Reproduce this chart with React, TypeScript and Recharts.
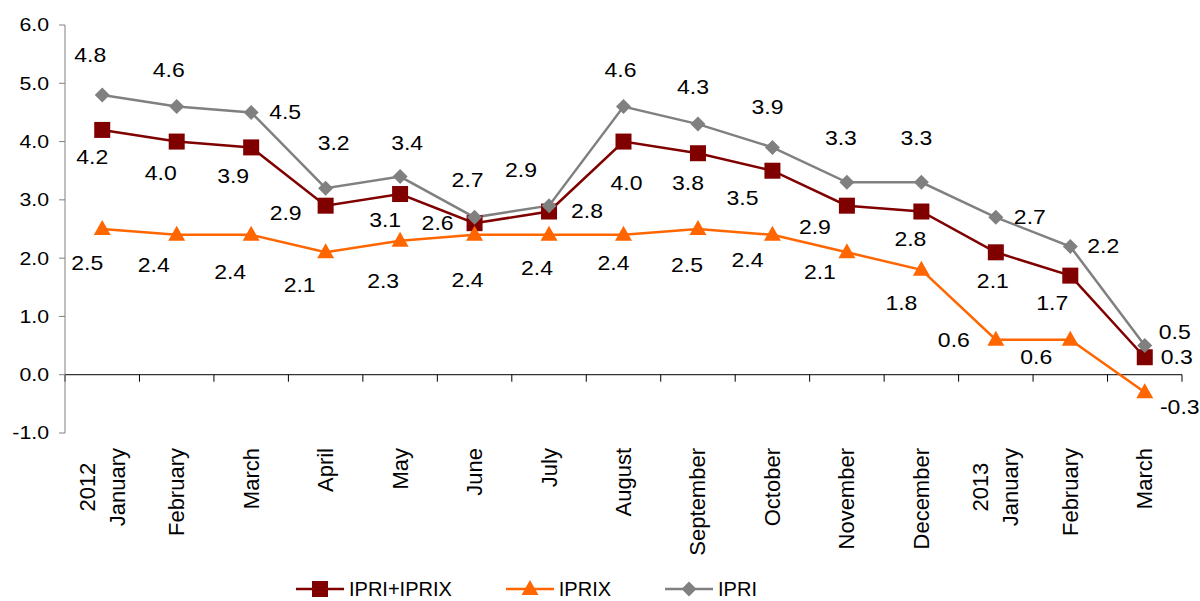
import { LineChart, Line, XAxis, YAxis, ReferenceLine, Legend, LabelList } from 'recharts';

const MONTHS = [
  'January', 'February', 'March', 'April', 'May', 'June', 'July', 'August',
  'September', 'October', 'November', 'December', 'January', 'February', 'March',
];
const YEARS = ['2012', '', '', '', '', '', '', '', '', '', '', '', '2013', '', ''];

const IPRI_IPRIX = [4.2, 4.0, 3.9, 2.9, 3.1, 2.6, 2.8, 4.0, 3.8, 3.5, 2.9, 2.8, 2.1, 1.7, 0.3];
const IPRIX = [2.5, 2.4, 2.4, 2.1, 2.3, 2.4, 2.4, 2.4, 2.5, 2.4, 2.1, 1.8, 0.6, 0.6, -0.3];
const IPRI = [4.8, 4.6, 4.5, 3.2, 3.4, 2.7, 2.9, 4.6, 4.3, 3.9, 3.3, 3.3, 2.7, 2.2, 0.5];

const Y_TICKS = [-1, 0, 1, 2, 3, 4, 5, 6];

// label placement (dx, dy from the point), hand placed like the original
const OFF_SUM = [[-10, 27], [-16, 31], [-18, 29], [-40, 7], [-15, 26], [-37, 0], [38, 0], [3, 41], [-10, 30], [-30, 27], [-32, 21], [-11, 28], [-3, 29], [-18, 27], [32, 0]];
const OFF_IPRIX = [[-15, 34], [-23, 30], [-21, 37], [-26, 33], [-17, 40], [-7, 45], [-12, 33], [-10, 28], [-11, 36], [-25, 25], [-27, 20], [-20, 33], [-42, 0], [-34, 17], [35, 15]];
const OFF_IPRI = [[-12, -40], [-8, -37], [34, 0], [8, -45], [7, -34], [-7, -37], [-28, -36], [-3, -37], [-5, -37], [-5, -40], [-6, -44], [-5, -44], [34, 0], [33, 0], [30, -14]];

const data = MONTHS.map((m, i) => ({
  key: `${YEARS[i]} ${m} ${i}`,
  sum: IPRI_IPRIX[i],
  iprix: IPRIX[i],
  ipri: IPRI[i],
}));

const FONT = '"Liberation Sans", Arial, sans-serif';
const RED = '#800000';
const ORANGE = '#FF6600';
const GRAY = '#808080';
const PLOT_W = 1200 - 65 - 18;
const HALF_BAND = PLOT_W / MONTHS.length / 2;
// the original's text runs a bit wider than Arial
const STRETCH = 1.15;
const CAT_SIZE = 22;

let ctx: CanvasRenderingContext2D | null = null;
function textWidth(s: string, size: number) {
  if (!ctx) ctx = document.createElement('canvas').getContext('2d');
  if (!ctx) return s.length * size * 0.55;
  ctx.font = `${size}px ${FONT}`;
  return ctx.measureText(s).width;
}

function Marker({ kind, cx, cy }: { kind: string; cx: number; cy: number }) {
  if (kind === 'square') return <rect x={cx - 8} y={cy - 8} width={16} height={16} fill={RED} />;
  if (kind === 'triangle')
    return <polygon points={`${cx},${cy - 9} ${cx + 8.5},${cy + 6} ${cx - 8.5},${cy + 6}`} fill={ORANGE} />;
  return <polygon points={`${cx},${cy - 7.5} ${cx + 7.5},${cy} ${cx},${cy + 7.5} ${cx - 7.5},${cy}`} fill={GRAY} />;
}

const dotFor = (kind: string) => (p: any) => (
  <Marker key={`${kind}-${p.index}`} kind={kind} cx={p.cx} cy={p.cy} />
);

const labelFor = (offs: number[][]) => (p: any) => {
  const [dx, dy] = offs[p.index] ?? [0, 0];
  return (
    <text
      key={p.index}
      transform={`translate(${Number(p.x) + dx},${Number(p.y) + dy}) scale(${STRETCH},1)`}
      textAnchor="middle"
      dominantBaseline="central"
      fontFamily={FONT}
      fontSize={20}
      fill="#000"
    >
      {Number(p.value).toFixed(1)}
    </text>
  );
};

function ValueTick({ x, y, payload }: any) {
  return (
    <text
      transform={`translate(${x},${y}) scale(${STRETCH},1)`}
      textAnchor="end"
      dominantBaseline="central"
      fontFamily={FONT}
      fontSize={18.5}
      fill="#000"
    >
      {Number(payload.value).toFixed(1)}
    </text>
  );
}

function MonthTick(props: any) {
  const { x, y, payload } = props;
  const i = payload?.index ?? props.index ?? 0;
  const month = MONTHS[i];
  const year = YEARS[i];
  if (!year) {
    return (
      <g transform={`translate(${x},${y}) rotate(-90)`}>
        <text x={0} y={0} textAnchor="end" dominantBaseline="central" fontFamily={FONT} fontSize={CAT_SIZE} fill="#000">
          {month}
        </text>
      </g>
    );
  }
  const w = textWidth(month, CAT_SIZE);
  return (
    <g transform={`translate(${x},${y}) rotate(-90)`}>
      <text x={-w / 2} y={-15} textAnchor="middle" dominantBaseline="central" fontFamily={FONT} fontSize={CAT_SIZE} fill="#000">
        {year}
      </text>
      <text x={0} y={15} textAnchor="end" dominantBaseline="central" fontFamily={FONT} fontSize={CAT_SIZE} fill="#000">
        {month}
      </text>
    </g>
  );
}

// zero line with category boundary tick marks
function ZeroLine(p: any) {
  const { x1, y1, x2 } = p;
  const n = MONTHS.length;
  const step = (x2 - x1) / n;
  return (
    <g>
      <line x1={x1} y1={y1} x2={x2} y2={y1} stroke="#000" strokeWidth={1} />
      {MONTHS.concat(['']).map((_, k) => (
        <line key={k} x1={x1 + k * step} y1={y1} x2={x1 + k * step} y2={y1 + 7} stroke="#000" strokeWidth={1} />
      ))}
    </g>
  );
}

const LEGEND = [
  { name: 'IPRI+IPRIX', color: RED, kind: 'square' },
  { name: 'IPRIX', color: ORANGE, kind: 'triangle' },
  { name: 'IPRI', color: GRAY, kind: 'diamond' },
];

function LegendContent() {
  return (
    <div style={{ display: 'flex', alignItems: 'center', height: 24, paddingLeft: 296, gap: 54, fontFamily: FONT, fontSize: 20, color: '#000' }}>
      {LEGEND.map(s => (
        <div key={s.name} style={{ display: 'flex', alignItems: 'center' }}>
          <svg width={48} height={20} style={{ display: 'block' }}>
            <line x1={0} y1={10} x2={48} y2={10} stroke={s.color} strokeWidth={2.5} />
            <Marker kind={s.kind} cx={24} cy={10} />
          </svg>
          <span style={{ marginLeft: 5, lineHeight: '24px' }}>{s.name}</span>
        </div>
      ))}
    </div>
  );
}

export default function App() {
  return (
    <div style={{ position: 'absolute', left: 0, top: 0, width: 1200, height: 601, background: '#fff' }}>
      <LineChart width={1200} height={601} data={data} margin={{ top: 25, right: 18, bottom: 0, left: 0 }}>
        <XAxis
          dataKey="key"
          interval={0}
          padding={{ left: HALF_BAND, right: HALF_BAND }}
          axisLine={false}
          tickLine={false}
          tickSize={6}
          tickMargin={9}
          height={144}
          tick={MonthTick}
        />
        <YAxis
          domain={[-1, 6]}
          ticks={Y_TICKS}
          width={65}
          axisLine={{ stroke: GRAY }}
          tickLine={{ stroke: GRAY }}
          tickSize={6}
          tickMargin={10}
          tick={ValueTick}
        />
        <ReferenceLine y={0} shape={ZeroLine} />
        <Legend verticalAlign="bottom" content={<LegendContent />} wrapperStyle={{ left: 0, width: 1200 }} />
        <Line dataKey="sum" name="IPRI+IPRIX" stroke={RED} strokeWidth={2.5} dot={dotFor('square')} isAnimationActive={false}>
          <LabelList dataKey="sum" content={labelFor(OFF_SUM)} />
        </Line>
        <Line dataKey="iprix" name="IPRIX" stroke={ORANGE} strokeWidth={2.5} dot={dotFor('triangle')} isAnimationActive={false}>
          <LabelList dataKey="iprix" content={labelFor(OFF_IPRIX)} />
        </Line>
        <Line dataKey="ipri" name="IPRI" stroke={GRAY} strokeWidth={2.5} dot={dotFor('diamond')} isAnimationActive={false}>
          <LabelList dataKey="ipri" content={labelFor(OFF_IPRI)} />
        </Line>
      </LineChart>
    </div>
  );
}
